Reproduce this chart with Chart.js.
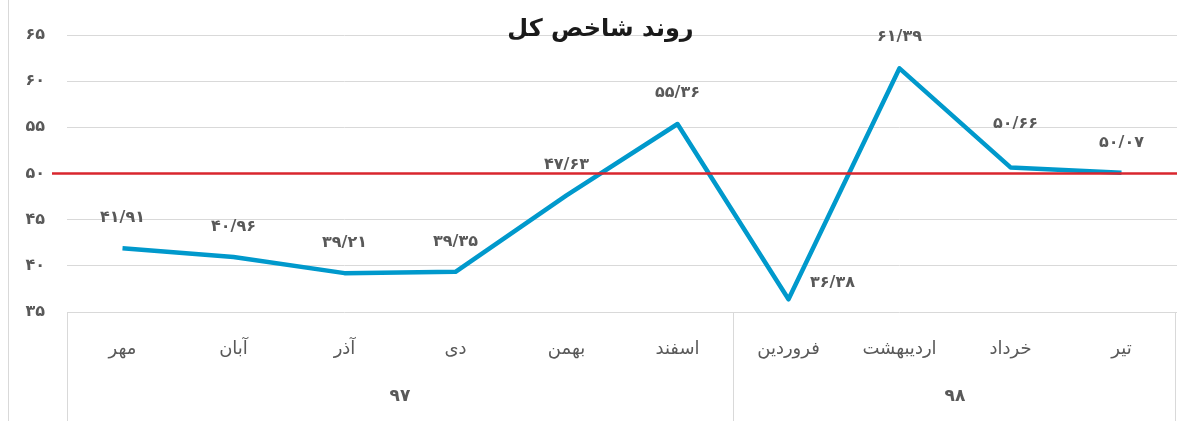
<!DOCTYPE html>
<html>
<head>
<meta charset="utf-8">
<script src="https://cdn.jsdelivr.net/npm/chart.js@4/dist/chart.umd.min.js"></script>
<style>
    html, body { margin: 0; padding: 0; background: #fff; }
    #wrap { width: 1177px; height: 421px; }
</style>
</head>
<body>
<div id="wrap"><canvas id="indexChart"></canvas></div>
<script>
// Data
const months = ['مهر', 'آبان', 'آذر', 'دی', 'بهمن', 'اسفند', 'فروردین', 'اردیبهشت', 'خرداد', 'تیر'];
const monthYears = ['97', '97', '97', '97', '97', '97', '98', '98', '98', '98'];
const indexValues = [41.91, 40.96, 39.21, 39.35, 47.63, 55.36, 36.38, 61.39, 50.66, 50.07];
const baseline = 50;
const yMin = 35;
const yMax = 65;
const yStep = 5;
const chartTitle = 'روند شاخص کل';

const FA_DIGITS = '۰۱۲۳۴۵۶۷۸۹';
function toFa(s) {
    return String(s).replace(/\d/g, d => FA_DIGITS[d]);
}

const FONT = '"DejaVu Sans", sans-serif';
const TEXT_GREY = '#595959';
const GRID_GREY = '#d9d9d9';

// label offsets relative to each point (dx, dy)
const labelOffsets = [[0, -30], [0, -30], [0, -30], [0, -30], [0, -31], [0, -31], [44, -16], [0, -31], [5, -44], [0, -30]];

const decorations = {
    id: 'decorations',
    beforeDraw(chart) {
        const ctx = chart.ctx;
        ctx.save();
        ctx.strokeStyle = GRID_GREY;
        ctx.lineWidth = 1;
        ctx.beginPath();
        ctx.moveTo(8.5, 0);
        ctx.lineTo(8.5, chart.height);
        ctx.stroke();
        ctx.restore();
    },
    afterDatasetsDraw(chart) {
        const ctx = chart.ctx;
        const x = chart.scales.x;
        const y = chart.scales.y;
        const area = chart.chartArea;

        // baseline at 50
        ctx.save();
        const by = y.getPixelForValue(baseline);
        ctx.strokeStyle = '#d9262e';
        ctx.lineWidth = 2.5;
        ctx.beginPath();
        ctx.moveTo(area.left - 15, by);
        ctx.lineTo(area.right, by);
        ctx.stroke();

        // data labels
        const meta = chart.getDatasetMeta(0);
        ctx.font = 'bold 16px ' + FONT;
        ctx.fillStyle = TEXT_GREY;
        ctx.textAlign = 'center';
        ctx.textBaseline = 'middle';
        meta.data.forEach((pt, i) => {
            const off = labelOffsets[i];
            const txt = toFa(indexValues[i].toFixed(2).replace('.', '/'));
            ctx.fillText(txt, pt.x + off[0], pt.y + off[1]);
        });

        // category box lines and year labels
        ctx.strokeStyle = GRID_GREY;
        ctx.lineWidth = 1;
        const groups = [];
        monthYears.forEach((yr, i) => {
            const last = groups[groups.length - 1];
            if (last && last.year === yr) last.end = i;
            else groups.push({ year: yr, start: i, end: i });
        });
        const half = (x.getPixelForValue(1) - x.getPixelForValue(0)) / 2;
        const edges = [area.left];
        groups.forEach(g => edges.push(Math.min(x.getPixelForValue(g.end) + half, area.right - 2)));
        ctx.beginPath();
        edges.forEach(ex => {
            const px = Math.round(ex) + 0.5;
            ctx.moveTo(px, area.bottom);
            ctx.lineTo(px, chart.height);
        });
        ctx.stroke();

        ctx.font = 'bold 17px ' + FONT;
        groups.forEach(g => {
            const cx = (x.getPixelForValue(g.start) + x.getPixelForValue(g.end)) / 2;
            ctx.fillText(toFa(g.year), cx, 397);
        });

        // title
        ctx.font = 'bold 24px ' + FONT;
        ctx.fillStyle = '#1a1a1a';
        ctx.fillText(chartTitle, chart.width / 2 + 12, 30);
        ctx.restore();
    }
};

new Chart(document.getElementById('indexChart').getContext('2d'), {
    type: 'line',
    data: {
        labels: months,
        datasets: [{
            label: chartTitle,
            data: indexValues,
            borderColor: '#0099cc',
            backgroundColor: '#0099cc',
            borderWidth: 4.5,
            borderJoinStyle: 'round',
            tension: 0,
            pointRadius: 0,
            fill: false
        }]
    },
    options: {
        responsive: true,
        maintainAspectRatio: false,
        animation: false,
        layout: {
            padding: { top: 35, right: 0, bottom: 0, left: 0 }
        },
        plugins: {
            legend: { display: false },
            title: { display: false },
            tooltip: { enabled: false }
        },
        scales: {
            x: {
                type: 'category',
                offset: true,
                grid: { display: false, drawTicks: false },
                border: { display: false },
                ticks: {
                    color: TEXT_GREY,
                    font: { family: FONT, size: 18 },
                    padding: 27,
                    maxRotation: 0,
                    autoSkip: false
                },
                afterFit(scale) { scale.height = 109; }
            },
            y: {
                min: yMin,
                max: yMax,
                grid: { color: GRID_GREY, drawTicks: false },
                border: { display: false },
                ticks: {
                    stepSize: yStep,
                    color: TEXT_GREY,
                    font: { family: FONT, size: 16, weight: 'bold' },
                    padding: 22,
                    callback: v => toFa(v)
                },
                afterFit(scale) { scale.width = 67; }
            }
        }
    },
    plugins: [decorations]
});
</script>
</body>
</html>
